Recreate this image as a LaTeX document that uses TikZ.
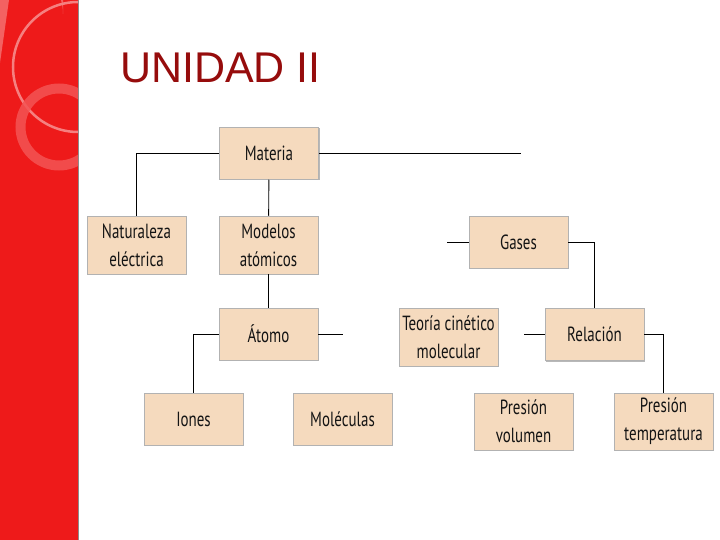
\documentclass[tikz,border=0pt]{standalone}
\usepackage{fontspec}
\usepackage{xcolor}
\usepackage{tikz}
\usetikzlibrary{positioning, shadows}
\setmainfont{PT Sans}
\newfontfamily\boxfont[FakeStretch=0.73]{PT Sans}
\newfontfamily\titlefont{Liberation Sans}
\definecolor{bandred}{RGB}{238,26,26}
\definecolor{bandlight}{RGB}{243,98,98}
\definecolor{ringthin}{RGB}{245,128,128}
\definecolor{ringthick}{RGB}{243,84,84}
\definecolor{peach}{RGB}{245,218,190}
\definecolor{titlered}{RGB}{150,12,12}
\tikzset{
  %% Concept box
  cbox/.style={
    rectangle, draw=black!30, fill=peach,
    minimum width=99pt, minimum height=#1,
    text centered, align=center, text=black!92,
    font=\boxfont\fontsize{20.5}{28}\selectfont,
    inner sep=2pt, line width=0.5pt,
    drop shadow={shadow xshift=1pt, shadow yshift=-1pt,
                 fill=black!35, opacity=0.8}
  },
  cbox/.default=52pt,
  %% Connector
  link/.style={draw=black, line width=0.9pt},
}

\begin{document}
\begin{tikzpicture}[x=1pt, y=-1pt]
  \useasboundingbox (0,0) rectangle (720,540);
  % left band
  \fill[bandred] (0,0) rectangle (78,540);
  \begin{scope}
    \clip (0,0) rectangle (78,540);
    \fill[bandlight] (0,0) -- (63,0) -- (63,14)
      arc[start angle=0, end angle=-90, radius=49] -- (0,63) -- cycle;
    \draw[ringthin, line width=2.5pt] (78,67) circle[radius=65];
    \draw[ringthick, line width=10pt, opacity=0.85] (59,127) circle[radius=38.5];
  \end{scope}
  \draw[black!45, line width=0.8pt] (78,0) -- (78,540);
  % title
  \node[anchor=base west, inner sep=0pt, text=titlered,
        font=\titlefont\fontsize{43}{50}\selectfont] (title) at (120,83) {UNIDAD II};
  % concept boxes
  \node[cbox] (materia) at (269,153.5) {Materia};
  \node[cbox=58pt] (natur) at (136.5,245) {Naturaleza\\eléctrica};
  \node[cbox=58pt] (modelos) at (268.5,245) {Modelos\\atómicos};
  \node[cbox] (gases) at (518.5,242) {Gases};
  \node[cbox] (atomo) at (268.5,334) {Átomo};
  \node[cbox=58pt] (teoria) at (448.5,337) {Teoría cinético\\molecular};
  \node[cbox] (relacion) at (594.5,334.5) {Relación};
  \node[cbox] (iones) at (193.5,419) {Iones};
  \node[cbox] (moleculas) at (342.5,419) {Moléculas};
  \node[cbox=57pt] (presvol) at (523.5,421.5) {Presión\\volumen};
  \node[cbox=57pt] (prestemp) at (663.5,421.5) {Presión\\temperatura};
  % free ends
  \coordinate (mEnd) at (521,153.5);
  \coordinate (aEnd) at (343,334);
  \coordinate (gEnd) at (447,242);
  \coordinate (rEnd) at (524,334.5);
  % connectors
  \draw[link] (materia.west) -| (natur.north);
  \draw[link] (materia.east) -- (mEnd);
  \draw[link] (materia) -- (modelos);
  \draw[link] (modelos) -- (atomo);
  \draw[link] (atomo.west) -| (iones.north);
  \draw[link] (atomo.east) -- (aEnd);
  \draw[link] (gases.west) -- (gEnd);
  \draw[link] (gases.east) -| (relacion.north);
  \draw[link] (relacion.west) -- (rEnd);
  \draw[link] (relacion.east) -| (prestemp.north);
\end{tikzpicture}
\end{document}
